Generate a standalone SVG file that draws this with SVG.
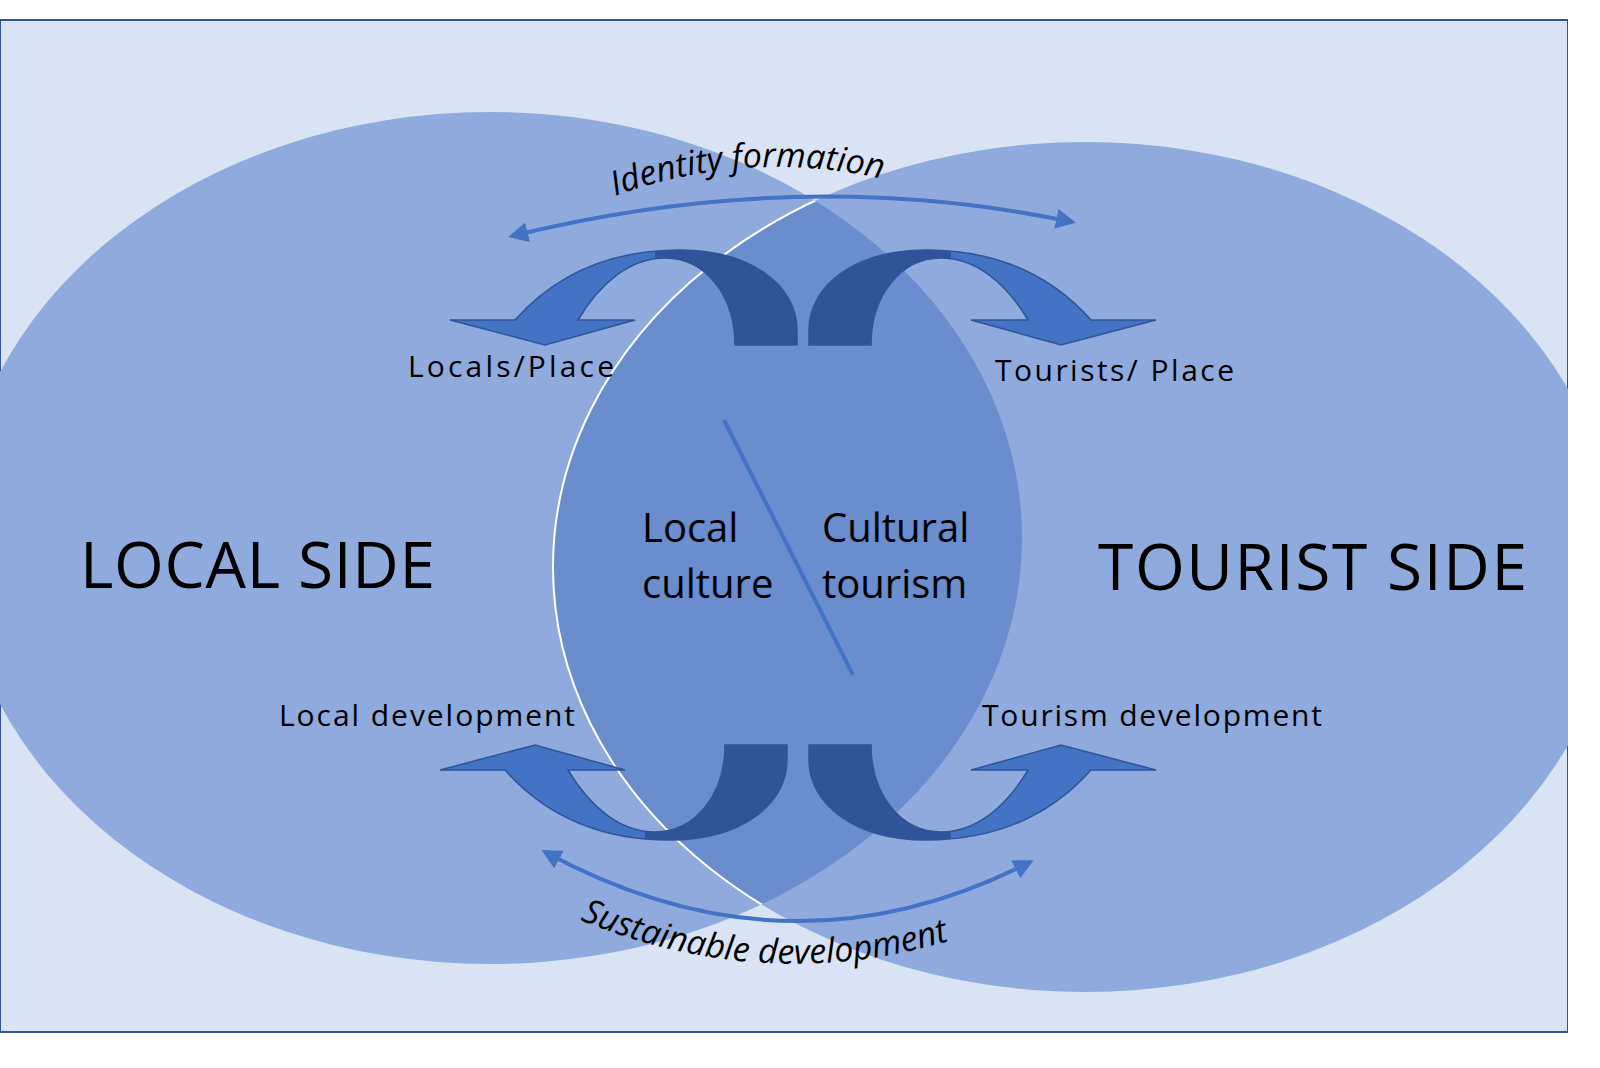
<svg xmlns="http://www.w3.org/2000/svg" width="1600" height="1068" viewBox="0 0 1600 1068">
<style>
.t{font-family:"Open Sans","Liberation Sans",sans-serif;fill:#000}
.big{font-size:64px}.mid{font-size:40px}.sm{font-size:30px}
.it{font-family:"Open Sans","Liberation Sans",sans-serif;font-style:italic;font-size:34px;fill:#000}
.arr{fill:none;stroke:#4472C4;stroke-width:4}
</style>
<defs>
<clipPath id="cr"><ellipse cx="1085" cy="567" rx="532" ry="425"/></clipPath>
<clipPath id="dk"><rect x="655" y="0" width="300" height="1068"/></clipPath>
<marker id="ah" viewBox="0 0 10 10" refX="8" refY="5" markerWidth="5" markerHeight="5" orient="auto-start-reverse"><path d="M0,0 L10,5 L0,10 z" fill="#4472C4"/></marker>
<path id="ua" d="M797,345 L797,330 C797,285 750,250 680,250 C610,250 555,275 515,320 L450,320 L545,345 L635,320 L578,320 C600,283 630,258 665,258 C705,258 735,295 735,345 Z"/>
<g id="uarrow">
<use href="#ua" fill="#4472C4" stroke="#2F5597" stroke-width="1.5"/>
<use href="#ua" fill="#2F5597" clip-path="url(#dk)"/>
</g>
<path id="tp1" d="M615,196 Q770,140 930,192"/>
<path id="tp2" d="M580,920 Q800,1010 1020,915"/>
</defs>
<rect width="1600" height="1068" fill="#fff"/>
<rect x="0" y="20" width="1568" height="1012" fill="#DAE3F3" stroke="#2F5597" stroke-width="2"/>
<g id="local-ellipse"><ellipse cx="490" cy="538" rx="532" ry="426" fill="#8FAADC"/></g>
<g id="tourist-ellipse"><ellipse cx="1085" cy="567" rx="532" ry="425" fill="#8FAADC"/>
<ellipse cx="490" cy="538" rx="532" ry="426" fill="#6A8DCE" clip-path="url(#cr)"/>
<ellipse cx="1085" cy="567" rx="532" ry="425" fill="none" stroke="#fff" stroke-width="2" clip-path="url(#lc)"/></g>
<clipPath id="lc"><ellipse cx="490" cy="538" rx="532" ry="426"/></clipPath>
<rect x="1568" y="0" width="32" height="1068" fill="#fff"/>
<g id="connectors">
<path class="arr" d="M512,236 Q800,165 1072,222" marker-start="url(#ah)" marker-end="url(#ah)"/>
<path class="arr" d="M545,852 Q790,985 1030,862" marker-start="url(#ah)" marker-end="url(#ah)"/>
<line x1="724" y1="420" x2="853" y2="675" stroke="#4472C4" stroke-width="4"/>
</g>
<g id="arrow-tl"><use href="#uarrow"/></g>
<g id="arrow-tr"><use href="#uarrow" transform="translate(1606,0) scale(-1,1)"/></g>
<g id="arrow-bl"><use href="#uarrow" transform="translate(-10,1090) scale(1,-1)"/></g>
<g id="arrow-br"><use href="#uarrow" transform="translate(1606,1090) scale(-1,-1)"/></g>
<g id="labels">
<text class="it"><textPath href="#tp1">Identity formation</textPath></text>
<text class="it"><textPath href="#tp2">Sustainable development</textPath></text>
<text class="t big" x="80" y="588" textLength="355">LOCAL SIDE</text>
<text class="t big" x="1098" y="590" textLength="429">TOURIST SIDE</text>
<text class="t mid" x="642" y="542">Local</text>
<text class="t mid" x="642" y="598">culture</text>
<text class="t mid" x="822" y="542">Cultural</text>
<text class="t mid" x="822" y="598">tourism</text>
<text class="t sm" x="408" y="377" textLength="206">Locals/Place</text>
<text class="t sm" x="995" y="381" textLength="239">Tourists/ Place</text>
<text class="t sm" x="279" y="726" textLength="296">Local development</text>
<text class="t sm" x="982" y="726" textLength="340">Tourism development</text>
</g>
</svg>
